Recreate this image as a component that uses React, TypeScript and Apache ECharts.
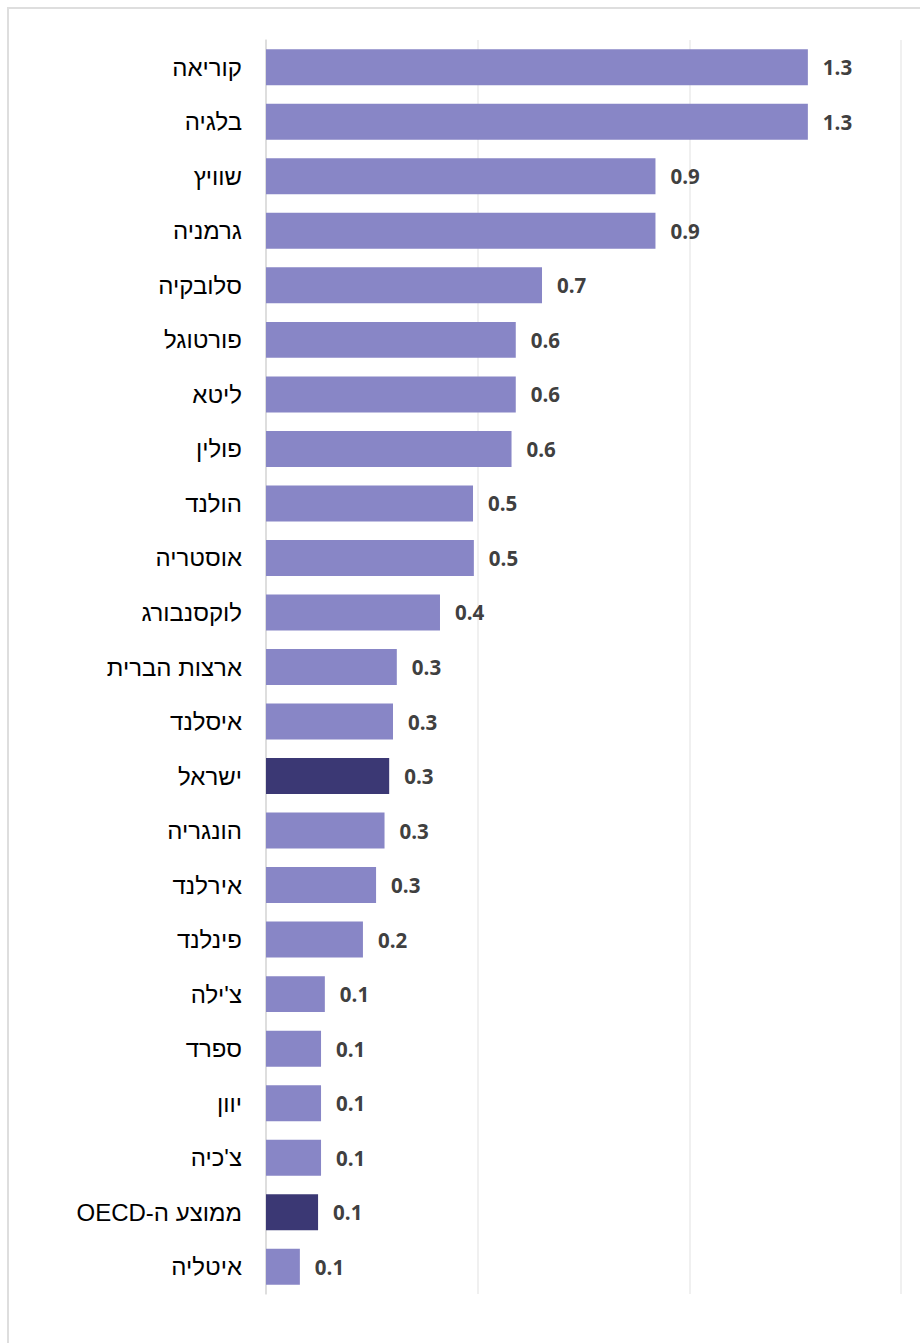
import React, { useEffect, useRef } from "react";
import * as echarts from "echarts";

const categories = [
  "קוריאה",
  "בלגיה",
  "שוויץ",
  "גרמניה",
  "סלובקיה",
  "פורטוגל",
  "ליטא",
  "פולין",
  "הולנד",
  "אוסטריה",
  "לוקסנבורג",
  "ארצות הברית",
  "איסלנד",
  "ישראל",
  "הונגריה",
  "אירלנד",
  "פינלנד",
  "צ'ילה",
  "ספרד",
  "יוון",
  "צ'כיה",
  "ממוצע ה-OECD",
  "איטליה",
];

const values = [
  1.28, 1.28, 0.92, 0.92, 0.652, 0.59, 0.59, 0.58, 0.489, 0.491, 0.411, 0.309,
  0.3, 0.291, 0.28, 0.26, 0.229, 0.139, 0.13, 0.13, 0.13, 0.123, 0.08,
];

const highlighted = ["ישראל", "ממוצע ה-OECD"];

const xTicks = { min: 0, max: 1.5, interval: 0.5 };

const LIGHT = "#8886C6";
const DARK = "#3B3874";

export default function App() {
  const ref = useRef<HTMLDivElement>(null);

  useEffect(() => {
    if (!ref.current) return;
    const chart = echarts.init(ref.current, null, { renderer: "svg" });
    chart.setOption({
      animation: false,
      backgroundColor: "transparent",
      grid: { left: 266, right: 19, top: 40, bottom: 49, containLabel: false },
      xAxis: {
        type: "value",
        min: xTicks.min,
        max: xTicks.max,
        interval: xTicks.interval,
        axisLabel: { show: false },
        axisLine: { show: false },
        axisTick: { show: false },
        splitLine: { show: true, lineStyle: { color: "#ebebeb", width: 1.5 } },
      },
      yAxis: {
        type: "category",
        inverse: true,
        data: categories,
        axisTick: { show: false },
        axisLine: { show: true, lineStyle: { color: "#d9d9d9", width: 1.5 } },
        axisLabel: {
          margin: 24,
          fontSize: 24,
          color: "#000000",
          fontFamily: "Liberation Sans, Arial, sans-serif",
          formatter: (v: string) => (/[A-Za-z]/.test(v) ? "\u202B" + v + "\u202C" : v),
        },
      },
      series: [
        {
          type: "bar",
          barCategoryGap: "34%",
          data: values.map((v, i) => ({
            value: v,
            itemStyle: { color: highlighted.includes(categories[i]) ? DARK : LIGHT },
          })),
          label: {
            show: true,
            position: "right",
            distance: 15,
            fontSize: 20.5,
            fontWeight: "bold",
            color: "#404040",
            fontFamily: "Open Sans, sans-serif",
            formatter: (p: any) => Number(p.value).toFixed(1),
          },
        },
      ],
    });
    return () => chart.dispose();
  }, []);

  return (
    <div
      style={{
        position: "fixed",
        left: 0,
        top: 0,
        width: 920,
        height: 1343,
        overflow: "hidden",
        background: "#ffffff",
      }}
    >
      <div
        style={{
          position: "absolute",
          left: 7,
          top: 7,
          width: 1000,
          height: 2000,
          border: "2px solid #dedede",
        }}
      />
      <div ref={ref} style={{ position: "absolute", left: 0, top: 0, width: 920, height: 1343 }} />
    </div>
  );
}
